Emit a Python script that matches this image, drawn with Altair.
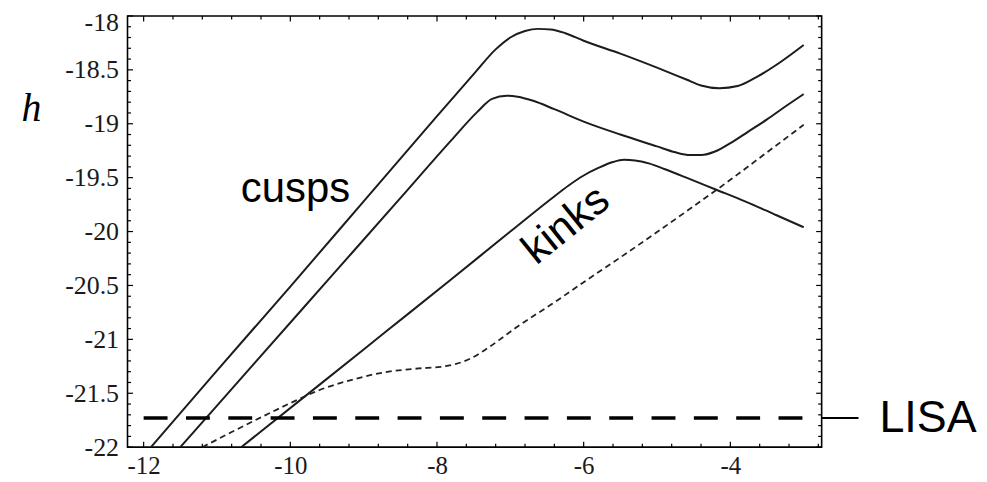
import altair as alt
import pandas as pd

# ---- axes ----
X_DOMAIN = [-12.22, -2.755]
Y_DOMAIN = [-22.0, -18.0]
x_ticks = [-12, -10, -8, -6, -4]
y_ticks = [-22, -21.5, -21, -20.5, -20, -19.5, -19, -18.5, -18]
x_minor = [round(-12 + 0.4 * i, 2) for i in range(24) if i % 5]
y_minor = [round(-22 + 0.1 * i, 2) for i in range(41) if i % 5]

# ---- curves ----
cusp_upper_x = [-11.90, -11.0, -10.0, -9.0, -8.0, -7.5, -7.2, -7.0, -6.8, -6.62, -6.45,
                -6.25, -6.0, -5.5, -5.0, -4.6, -4.4, -4.15, -3.9, -3.65, -3.3, -3.0]
cusp_upper_y = [-22.0, -21.29, -20.51, -19.72, -18.93, -18.54, -18.31, -18.20, -18.14, -18.12, -18.125,
                -18.16, -18.23, -18.35, -18.48, -18.59, -18.645, -18.67, -18.65, -18.57, -18.42, -18.27]

cusp_lower_x = [-11.5, -10.5, -9.5, -8.5, -7.8, -7.45, -7.25, -7.05, -6.9, -6.7, -6.4,
                -6.0, -5.5, -5.0, -4.75, -4.55, -4.4, -4.2, -4.0, -3.75, -3.5, -3.25, -3.0]
cusp_lower_y = [-22.0, -21.23, -20.46, -19.69, -19.15, -18.89, -18.77, -18.74, -18.75, -18.785, -18.865,
                -18.98, -19.10, -19.21, -19.265, -19.29, -19.29, -19.255, -19.18, -19.07, -18.96, -18.84, -18.725]

kinks_x = [-10.67, -9.6, -8.7, -7.8, -7.0, -6.45, -6.2, -6.0, -5.8, -5.6, -5.45,
           -5.3, -5.1, -4.9, -4.6, -4.2, -3.8, -3.4, -3.0]
kinks_y = [-22.0, -21.42, -20.93, -20.44, -20.0, -19.70, -19.57, -19.48, -19.41, -19.355, -19.335,
           -19.34, -19.37, -19.42, -19.50, -19.61, -19.72, -19.84, -19.96]

dotted_x = [-11.2, -10.8, -10.33, -9.9, -9.6, -9.16, -8.71, -8.25, -7.95, -7.75, -7.55, -7.35,
            -7.15, -6.9, -6.45, -6.0, -5.5, -5.0, -4.5, -4.0, -3.5, -3.0]
dotted_y = [-22.0, -21.86, -21.70, -21.56, -21.47, -21.375, -21.305, -21.27, -21.255, -21.23, -21.18, -21.10,
            -21.005, -20.88, -20.68, -20.47, -20.24, -20.005, -19.765, -19.52, -19.265, -19.01]

lisa_level = -21.73
lisa_span = [-12.0, -3.0]

labels_text = ["cusps", "kinks"]
labels_x = [-9.93, -6.24]
labels_y = [-19.73, -19.94]

W, H = 697, 433

xs = alt.Scale(domain=X_DOMAIN, nice=False, zero=False)
ys = alt.Scale(domain=Y_DOMAIN, nice=False, zero=False)

solid = pd.concat([
    pd.DataFrame({"x": cusp_upper_x, "y": cusp_upper_y, "s": "cusp1"}),
    pd.DataFrame({"x": cusp_lower_x, "y": cusp_lower_y, "s": "cusp2"}),
    pd.DataFrame({"x": kinks_x, "y": kinks_y, "s": "kinks"}),
])
dotted = pd.DataFrame({"x": dotted_x, "y": dotted_y})

x_axis = alt.Axis(values=x_ticks, ticks=False, domain=False, grid=False, title=None,
                  labelFont="Liberation Serif", labelFontSize=25, labelColor="#1a1a1a",
                  labelPadding=6, labelExpr="'' + datum.value")
y_axis = alt.Axis(values=y_ticks, ticks=False, domain=False, grid=False, title="h",
                  labelFont="Liberation Serif", labelFontSize=26, labelColor="#1a1a1a",
                  labelPadding=9, labelExpr="'' + datum.value",
                  labelOffset={"condition": {"test": "datum.value == -18", "value": 7}, "value": 0},
                  titleAngle=0, titleX=-97, titleY=93, titleAlign="center",
                  titleBaseline="middle", titleFont="Liberation Serif", titleFontSize=40,
                  titleFontStyle="italic", titleFontWeight="normal", titleColor="black")


def X(field):
    return alt.X(field, scale=xs, axis=x_axis)


def Y(field):
    return alt.Y(field, scale=ys, axis=y_axis)


curves = alt.Chart(solid).mark_line(color="#1c1c1c", strokeWidth=2, interpolate="monotone").encode(
    x=X("x:Q"), y=Y("y:Q"), detail="s:N",
)

dots = alt.Chart(dotted).mark_line(color="#222222", strokeWidth=1.8, strokeDash=[6, 4],
                                   interpolate="monotone").encode(
    x=X("x:Q"), y=Y("y:Q"),
)

lisa_df = pd.DataFrame({"x": [lisa_span[0]], "x1": [lisa_span[1]], "y": [lisa_level], "t": ["LISA"]})
lisa_line = alt.Chart(lisa_df).mark_rule(color="black", strokeWidth=3.5, strokeDash=[24, 18.5]).encode(
    x=X("x:Q"), x2="x1:Q", y=Y("y:Q"),
)
lisa_mark = alt.Chart(lisa_df).mark_rule(color="black", strokeWidth=2).encode(
    x=alt.value(W), x2=alt.value(W + 37), y=Y("y:Q"),
)
lisa_text = alt.Chart(lisa_df).mark_text(align="left", baseline="middle", font="Liberation Sans",
                                         fontSize=45, color="black").encode(
    x=alt.value(W + 58), y=Y("y:Q"), text="t:N",
)

lab = pd.DataFrame({"x": labels_x, "y": labels_y, "t": labels_text})
cusps_text = alt.Chart(lab.iloc[[0]]).mark_text(align="center", baseline="alphabetic",
                                                 font="Liberation Sans", fontSize=42, color="black").encode(
    x=X("x:Q"), y=Y("y:Q"), text="t:N")
kinks_text = alt.Chart(lab.iloc[[1]]).mark_text(align="center", baseline="middle", angle=321,
                                                 font="Liberation Sans", fontSize=43, color="black").encode(
    x=X("x:Q"), y=Y("y:Q"), text="t:N")


def xticks(vals, length):
    d = pd.DataFrame({"x": vals})
    b = alt.Chart(d).mark_rule(color="black", strokeWidth=1.2).encode(
        x=X("x:Q"), y=alt.value(H), y2=alt.value(H - length))
    t = alt.Chart(d).mark_rule(color="black", strokeWidth=1.2).encode(
        x=X("x:Q"), y=alt.value(0), y2=alt.value(length))
    return [b, t]


def yticks(vals, length):
    d = pd.DataFrame({"y": vals})
    l = alt.Chart(d).mark_rule(color="black", strokeWidth=1.2).encode(
        y=Y("y:Q"), x=alt.value(0), x2=alt.value(length))
    r = alt.Chart(d).mark_rule(color="black", strokeWidth=1.2).encode(
        y=Y("y:Q"), x=alt.value(W), x2=alt.value(W - length))
    return [l, r]


tick_layers = xticks(x_ticks, 5.5) + xticks(x_minor, 3.5) + yticks(y_ticks, 5.5) + yticks(y_minor, 3.5)

chart = alt.layer(
    curves, dots, lisa_line, lisa_mark, lisa_text, cusps_text, kinks_text, *tick_layers
).properties(
    width=W, height=H,
    padding={"left": 120, "top": 7, "right": 158, "bottom": 32},
    autosize=alt.AutoSizeParams(type="none"),
    background="white",
).configure_view(stroke="black", strokeWidth=1.6)

chart.save("out.html", embed_options={"renderer": "svg", "actions": False})
